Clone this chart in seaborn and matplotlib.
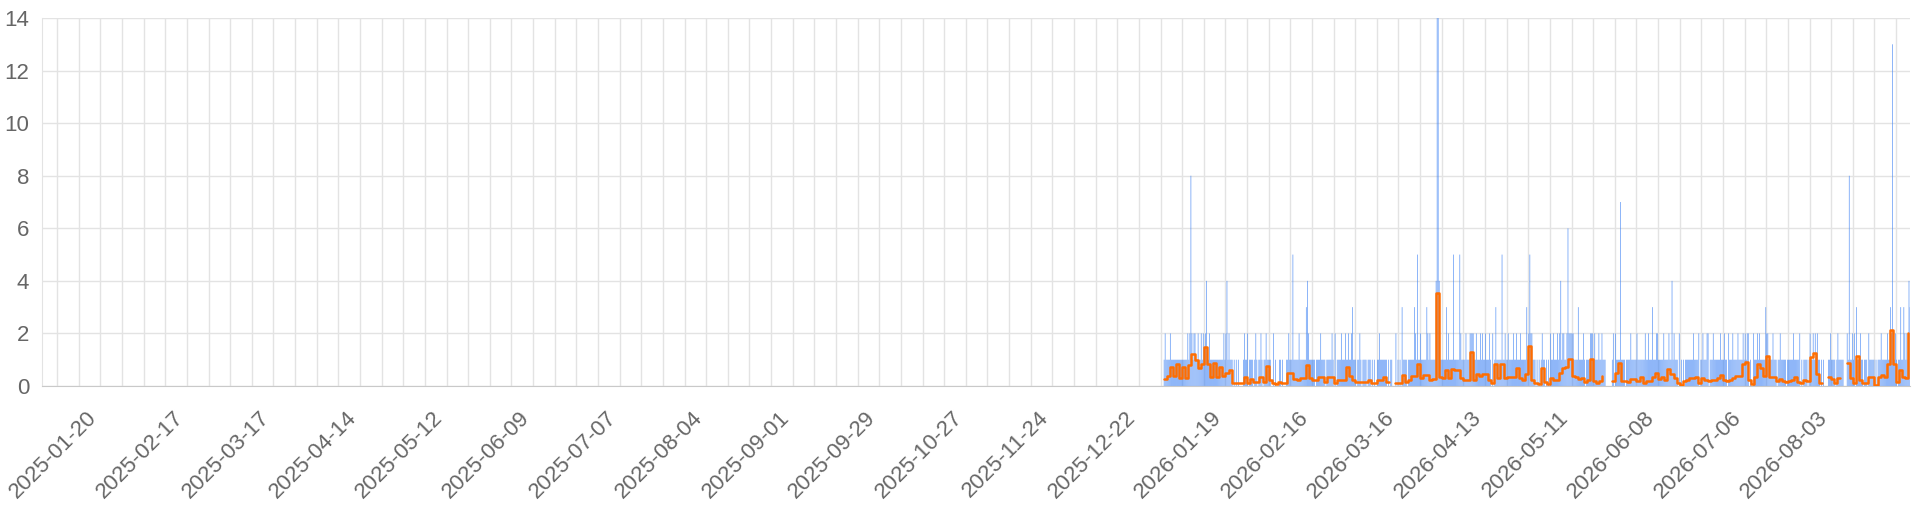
import numpy as np
import pandas as pd
import matplotlib
matplotlib.use("Agg")
import matplotlib.pyplot as plt
import matplotlib.dates as mdates
import matplotlib.transforms as mtransforms
import seaborn as sns

sns.set_style("white")
plt.rcParams['font.family'] = ['Liberation Sans', 'DejaVu Sans']

# DATA

# daily mean (orange step line), one list per month, nan = no data that day
first_day = "2025-12-30"
orange_dec = [0.25, 0.38]
orange_jan = [0.74, 0.38, 0.82, 0.29, 0.74, 0.29, 0.80, 1.2,
              1.0, 0.70, 0.82, 1.47, 0.82, 0.35, 0.89, 0.35, 0.74, 0.38,
              0.5, 0.6, 0.1, 0.1, 0.1, 0.1, 0.33, 0.13, 0.25, 0.15,
              0.15, 0.35, 0.15]
orange_feb = [0.76, 0.23, 0.1, 0.08, 0.16, 0.1, 0.1,
              0.48, 0.48, 0.25, 0.23, 0.29, 0.29, 0.8, 0.29, 0.23, 0.23,
              0.35, 0.35, 0.16, 0.35, 0.35, 0.13, 0.23, 0.23, 0.23, 0.74,
              0.38]
orange_mar = [0.23, 0.16, 0.16, 0.16, 0.16, 0.23, 0.1, 0.1, 0.23,
              0.23, 0.35, 0.16, 0.16, np.nan, 0.1, 0.1, 0.42, 0.16, 0.23,
              0.38, 0.38, 0.82, 0.29, 0.42, 0.42, 0.23, 0.25, 3.55, 0.35,
              0.29, 0.6]
orange_apr = [0.32, 0.65, 0.6, 0.6, 0.29, 0.23, 0.23, 1.3,
              0.23, 0.44, 0.38, 0.44, 0.44, 0.23, 0.1, 0.84, 0.29, 0.82,
              0.29, 0.35, 0.35, 0.35, 0.67, 0.29, 0.23, 0.46, 1.52, 0.23,
              0.13, 0.08]
orange_may = [0.67, 0.16, 0.06, 0.29, 0.23, 0.23, 0.5, 0.67,
              0.74, 1.01, 0.38, 0.33, 0.25, 0.29, 0.16, 0.23, 1.01, 0.19,
              0.13, 0.19, 0.38, np.nan, np.nan, 0.19, 0.5, 0.89, 0.19, 0.19,
              0.15, 0.25, 0.28]
orange_jun = [0.19, 0.33, 0.13, 0.19, 0.19, 0.35, 0.5,
              0.25, 0.35, 0.23, 0.63, 0.45, 0.29, 0.1, 0.04, 0.2, 0.23,
              0.29, 0.29, 0.33, 0.13, 0.29, 0.23, 0.19, 0.23, 0.23, 0.29,
              0.42, 0.23, 0.19]
orange_jul = [0.23, 0.29, 0.38, 0.38, 0.84, 0.93, 0.23,
              0.06, 0.33, 0.82, 0.67, 0.38, 1.14, 0.35, 0.35, 0.19, 0.25,
              0.19, 0.16, 0.2, 0.23, 0.33, 0.16, 0.1, 0.23, 0.19, 1.09,
              1.24, 0.46, 0.13, 0.1]
orange_aug = [np.nan, 0.33, 0.25, 0.13, 0.29, 0.29,
              np.nan, 0.86, 0.29, 0.1, 1.14, 0.23, 0.13, 0.13, 0.35, 0.35,
              0.04, 0.33, 0.42, 0.33, 0.82, 2.13, 0.82, 0.16, 0.6, 0.33,
              0.29, 2.0]

# counts (blue bars), 8-hour slots, 3 hex chars per day (d = 13, e = 14)
blue_dec = "121 111"
blue_jan = ("211 111 111 111 111 112 128 212 211 211 212 124 112 111 111 111 "
            "111 121 241 211 101 010 100 001 211 201 111 012 101 121 011")
blue_feb = ("211 110 020 100 011 010 001 121 115 111 112 111 111 342 111 111 "
            "011 112 111 101 111 121 020 111 121 112 112 112")
blue_mar = ("311 101 121 011 110 111 010 100 112 111 111 101 011 000 201 010 "
            "311 110 111 111 321 511 211 111 321 211 111 4ee 411 111 131")
blue_apr = ("211 115 111 115 211 112 111 222 211 211 121 211 211 121 020 131 "
            "111 151 121 121 111 211 211 121 111 131 252 211 101 010")
blue_may = ("121 101 010 211 211 121 241 221 126 222 221 111 311 112 101 111 "
            "222 121 112 112 111 000 000 120 211 117 111 101 111 211 111")
blue_jun = ("211 111 112 112 111 311 122 111 112 111 121 141 211 102 010 101 "
            "111 111 121 111 201 121 112 201 112 111 111 211 121 102")
blue_jul = ("111 211 112 111 121 212 201 002 111 212 111 113 221 111 211 101 "
            "121 111 101 111 112 111 112 010 111 101 211 212 121 101 010")
blue_aug = ("000 112 111 101 211 111 000 218 112 120 311 121 101 110 211 111 "
            "010 111 211 111 211 32d 212 101 131 132 121 434")

x_start, x_end = "2025-01-01", "2026-08-28 12:00"
label_days = pd.date_range("2025-01-20", "2026-08-03", freq="28D")
week_days = pd.date_range("2025-01-06", "2026-08-24", freq="7D")

# BUILD FRAMES

orange = (orange_dec + orange_jan + orange_feb + orange_mar + orange_apr
          + orange_may + orange_jun + orange_jul + orange_aug)
daily = pd.DataFrame({
    "day": pd.date_range(first_day, periods=len(orange), freq="D"),
    "mean": orange,
})
daily["seg"] = daily["mean"].isna().cumsum()
daily = daily.dropna()

slots = "".join([blue_dec, blue_jan, blue_feb, blue_mar, blue_apr,
                 blue_may, blue_jun, blue_jul, blue_aug]).replace(" ", "")
counts = pd.DataFrame({
    "t": pd.date_range(first_day, periods=len(slots), freq="8h") + pd.Timedelta(hours=4),
    "n": [int(c, 16) for c in slots],
})
counts = counts[counts["n"] > 0]

# PLOT

grid_c = "#e3e3e3"
text_c = "#666666"

fig, ax = plt.subplots(figsize=(19.2, 5.12), dpi=100)
fig.subplots_adjust(left=0.0217, right=0.9948, top=0.9648, bottom=0.2461)

ax.bar(counts["t"], counts["n"], width=5 / 24, color="#3f83f4",
       alpha=0.9, linewidth=0, snap=False, zorder=2)
sns.lineplot(data=daily, x="day", y="mean", units="seg", estimator=None,
             drawstyle="steps-post", color="#ff6d00", linewidth=1.8,
             legend=False, ax=ax, zorder=3)

ax.set_xlim(pd.Timestamp(x_start), pd.Timestamp(x_end))
ax.set_ylim(0, 14)
ax.set_yticks(range(0, 15, 2))
ax.set_xticks(label_days)
ax.set_xticks(week_days, minor=True)
ax.xaxis.set_major_formatter(mdates.DateFormatter("%Y-%m-%d"))
ax.set_xlabel("")
ax.set_ylabel("")

ax.grid(True, which="both", axis="x", color=grid_c, linewidth=1, zorder=0)
ax.grid(True, which="major", axis="y", color=grid_c, linewidth=1, zorder=0)
ax.set_axisbelow(True)
for s in ["top", "right"]:
    ax.spines[s].set_visible(False)
ax.spines["left"].set_color(grid_c)
ax.spines["bottom"].set_color("#c9c9c9")

ax.tick_params(axis="both", which="both", width=1, color=grid_c,
               labelcolor=text_c, labelsize=16)
ax.tick_params(axis="x", which="both", length=5)
ax.tick_params(axis="x", which="major", pad=10.5)
ax.tick_params(axis="y", length=6, pad=3)

# rotated date labels: right end of the text sits at the tick
shift = mtransforms.ScaledTranslation(-0.14, 0, fig.dpi_scale_trans)
for lab in ax.get_xticklabels():
    lab.set_rotation(45)
    lab.set_ha("right")
    lab.set_va("top")
    lab.set_rotation_mode("anchor")
    lab.set_transform(lab.get_transform() + shift)

plt.savefig("out.png", dpi=100)
plt.close()
